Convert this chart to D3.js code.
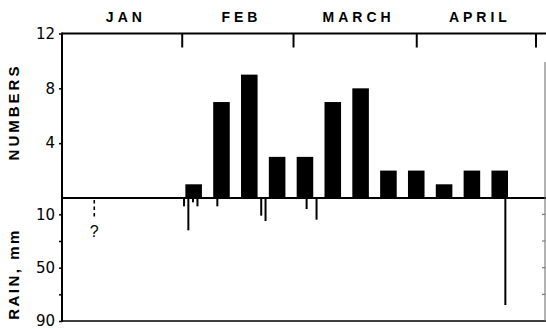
<!DOCTYPE html>
<html>
<head>
<meta charset="utf-8">
<script src="https://cdn.jsdelivr.net/npm/d3@7/dist/d3.min.js"></script>
<style>
  html, body { margin: 0; padding: 0; background: #fff; }
  svg { display: block; }
  text { fill: #000; }
</style>
</head>
<body>
<svg id="chart" width="546" height="329"></svg>
<script>
// ---- data ----
const months = ["JAN", "FEB", "MARCH", "APRIL"];
const monthStarts = ["1967-01-01", "1967-02-01", "1967-03-01", "1967-04-01", "1967-05-01"];
const weekDates = ["1967-02-04", "1967-02-11", "1967-02-18", "1967-02-25",
                   "1967-03-04", "1967-03-11", "1967-03-18", "1967-03-25",
                   "1967-04-01", "1967-04-08", "1967-04-15", "1967-04-22"];
const numbers = [1, 7, 9, 3, 3, 7, 8, 2, 2, 1, 2, 2];
const rainDates = ["1967-02-01T14:00", "1967-02-02T16:00", "1967-02-03T20:00", "1967-02-04T23:00",
                   "1967-02-09T23:00", "1967-02-21T00:00", "1967-02-22T02:00", "1967-03-04T10:00",
                   "1967-03-06T22:00", "1967-04-23T10:00"];
const rainMm = [4, 22, 1, 4, 4, 11, 15, 6, 14, 78];
const unknownRainDate = "1967-01-10";
const unknownRainLabel = "?";
const numberTicks = [12, 8, 4];
const rainTicks = [10, 30, 50, 70, 90];
const rainTickLabels = [10, 50, 90];
const numbersTitle = "NUMBERS";
const rainTitle = "RAIN, mm";

// ---- layout ----
(function () {
const svg = d3.select("#chart");
const leftX = 62, rightX = 546, frameRight = 545;
const topY = 33.5, baseY = 198, bottomY = 321;
const parse = d3.utcParse("%Y-%m-%d");
const parseT = d3.utcParse("%Y-%m-%dT%H:%M");

const x = d3.scaleUtc()
  .domain([parse("1967-01-01"), parse("1967-05-01")])
  .range([58.5, 535.5]);
const y = d3.scaleLinear().domain([0, 12]).range([baseY, topY]);
const yr = d3.scaleLinear().domain([0, 90]).range([201, bottomY]);

const ink = "#000";

// bars
const barDays = 4.2;
const barW = x(d3.utcHour.offset(parse("1967-02-01"), barDays * 24)) - x(parse("1967-02-01"));
svg.append("g").selectAll("rect")
  .data(weekDates.map((d, i) => ({ date: parse(d), v: numbers[i] })))
  .join("rect")
  .attr("x", d => x(d.date) - barW / 2)
  .attr("y", d => y(d.v))
  .attr("width", barW)
  .attr("height", d => y(0) - y(d.v))
  .attr("fill", ink);

// rain lines
svg.append("g").selectAll("line")
  .data(rainDates.map((d, i) => ({ date: parseT(d), v: rainMm[i] })))
  .join("line")
  .attr("x1", d => x(d.date)).attr("x2", d => x(d.date))
  .attr("y1", baseY).attr("y2", d => yr(d.v))
  .attr("stroke", ink).attr("stroke-width", 2);

// unknown rain
const ux = x(parse(unknownRainDate));
svg.append("line")
  .attr("x1", ux).attr("x2", ux).attr("y1", 200).attr("y2", 218)
  .attr("stroke", ink).attr("stroke-width", 1.6).attr("stroke-dasharray", "3.5,3");
svg.append("text")
  .attr("x", ux).attr("y", 237)
  .attr("text-anchor", "middle")
  .attr("font-family", "Liberation Sans, Arial, sans-serif")
  .attr("font-size", 16)
  .text(unknownRainLabel);

// frame lines
const frame = svg.append("g").attr("stroke", ink);
frame.append("line").attr("x1", leftX).attr("x2", rightX).attr("y1", topY).attr("y2", topY).attr("stroke-width", 2);
frame.append("line").attr("x1", leftX).attr("x2", rightX).attr("y1", baseY).attr("y2", baseY).attr("stroke-width", 2);
frame.append("line").attr("x1", leftX).attr("x2", rightX).attr("y1", bottomY).attr("y2", bottomY).attr("stroke-width", 1.5);
frame.append("line").attr("x1", frameRight).attr("x2", frameRight).attr("y1", 62).attr("y2", bottomY)
  .attr("stroke-width", 1).attr("stroke", "#666");

// top month axis
const monthDates = monthStarts.map(parse);
const topAxis = d3.axisBottom(x)
  .tickValues(monthDates.slice(1))
  .tickSize(14)
  .tickFormat("");
const gTop = svg.append("g").attr("transform", `translate(0,${topY})`).call(topAxis);
gTop.select(".domain").remove();
gTop.selectAll(".tick line").attr("stroke", ink).attr("stroke-width", 2);

// month labels
svg.append("g").selectAll("text")
  .data(months.map((m, i) => ({ m, a: monthDates[i], b: monthDates[i + 1] })))
  .join("text")
  .attr("x", d => (Math.max(x(d.a), leftX) + x(d.b)) / 2 + 4)
  .attr("y", 21.5)
  .attr("text-anchor", "middle")
  .attr("font-family", "Liberation Sans, Arial, sans-serif")
  .attr("font-weight", "bold")
  .attr("font-size", 14)
  .attr("letter-spacing", 4)
  .text(d => d.m);

// left axes
const axisFont = "DejaVu Sans, sans-serif";
const numAxis = d3.axisLeft(y).tickValues(numberTicks).tickSize(3).tickPadding(4);
const gNum = svg.append("g").attr("transform", `translate(${leftX},0)`).call(numAxis);
gNum.select(".domain").remove();
gNum.selectAll(".tick line").attr("stroke", ink).attr("stroke-width", 1.5);
gNum.selectAll(".tick text").attr("font-family", axisFont).attr("font-size", 15).attr("fill", ink);

const rainAxis = d3.axisLeft(yr).tickValues(rainTicks).tickSize(3).tickPadding(4)
  .tickFormat(d => rainTickLabels.includes(d) ? d : "");
const gRain = svg.append("g").attr("transform", `translate(${leftX},0)`).call(rainAxis);
gRain.select(".domain").remove();
gRain.selectAll(".tick line").attr("stroke", ink).attr("stroke-width", 1.5);
gRain.selectAll(".tick text").attr("font-family", axisFont).attr("font-size", 15).attr("fill", ink);

// left vertical axis line
svg.append("line").attr("x1", leftX).attr("x2", leftX).attr("y1", topY - 1).attr("y2", bottomY + 0.75)
  .attr("stroke", ink).attr("stroke-width", 2);

// right-side small ticks for rain
svg.append("g").selectAll("line")
  .data(rainTicks.slice(0, 4))
  .join("line")
  .attr("x1", frameRight - 3).attr("x2", frameRight)
  .attr("y1", d => yr(d)).attr("y2", d => yr(d))
  .attr("stroke", "#666").attr("stroke-width", 1);

// axis titles
svg.append("text")
  .attr("transform", "translate(19,112) rotate(-90)")
  .attr("text-anchor", "middle")
  .attr("font-family", "Liberation Sans, Arial, sans-serif")
  .attr("font-weight", "bold")
  .attr("font-size", 15)
  .attr("letter-spacing", 3)
  .text(numbersTitle);
svg.append("text")
  .attr("transform", "translate(19,274) rotate(-90)")
  .attr("text-anchor", "middle")
  .attr("font-family", "Liberation Sans, Arial, sans-serif")
  .attr("font-weight", "bold")
  .attr("font-size", 15)
  .attr("letter-spacing", 2.5)
  .text(rainTitle);
})();
</script>
</body>
</html>
